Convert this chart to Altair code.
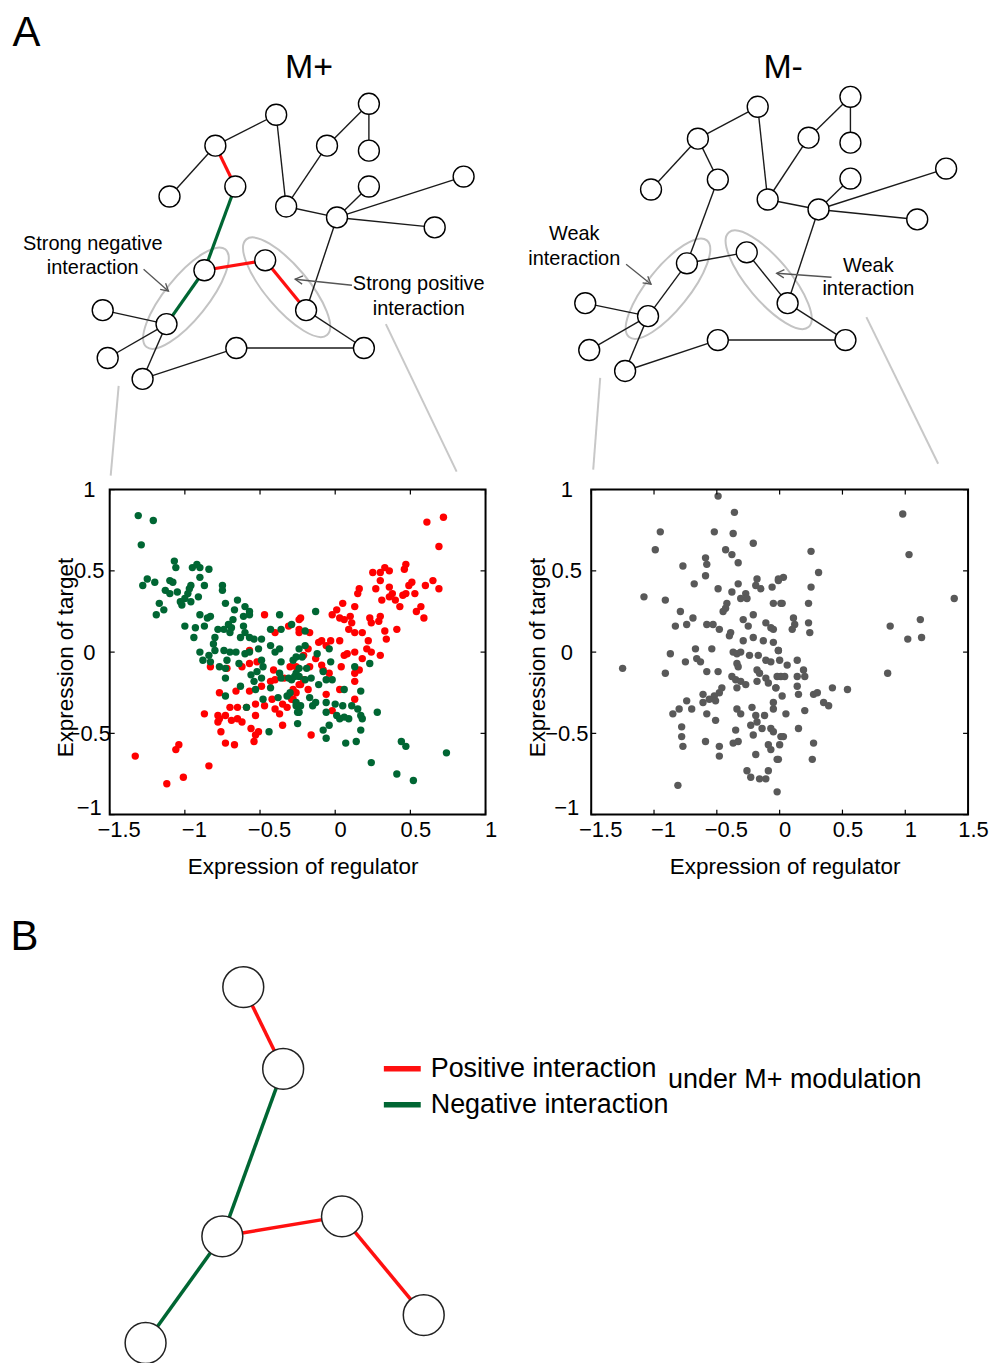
import math
import altair as alt
import pandas as pd

FONT = "Liberation Sans"
RED = "#ff0000"
GREEN = "#006633"
GREY = "#595959"

# ---------------- scatter data: M+ (left) ----------------
red_pts = [
    (-0.47, 0.23), (-0.40, 0.12), (-0.31, 0.16), (-0.24, 0.20), (-0.24, 0.12), (-0.57, 0.01), (-0.57, -0.07),
    (-0.83, -0.09), (-0.72, -0.10), (-0.62, -0.09), (-0.52, -0.06), (-0.41, -0.11), (-0.49, -0.21), (-0.43, -0.18),
    (-0.40, -0.17), (-0.34, -0.16), (-0.77, -0.25), (-0.66, -0.24), (-0.57, -0.24), (-0.47, -0.33), (-0.42, -0.29),
    (-0.40, -0.35), (-0.37, -0.38), (-0.35, -0.32), (-0.32, -0.34), (-0.29, -0.29), (-0.28, -0.23), (-0.24, -0.20),
    (-0.70, -0.34), (-0.65, -0.34), (-0.59, -0.34), (-0.53, -0.32), (-0.53, -0.39), (-0.87, -0.38), (-0.78, -0.39),
    (-0.73, -0.39), (-0.77, -0.41), (-0.78, -0.43), (-0.69, -0.42), (-0.65, -0.41), (-0.62, -0.43), (-0.76, -0.49),
    (-0.56, -0.47), (-0.53, -0.51), (-0.54, -0.55), (-0.51, -0.49), (-0.35, -0.45), (-0.73, -0.56), (-0.67, -0.57),
    (-1.33, -0.64), (-1.06, -0.60), (-1.04, -0.57), (-0.84, -0.70), (-1.01, -0.77), (-1.12, -0.81),
    (0.61, 0.80), (0.72, 0.83), (0.69, 0.65), (0.47, 0.54), (0.46, 0.51), (0.25, 0.49), (0.30, 0.49), (0.33, 0.52),
    (0.36, 0.50), (0.30, 0.44), (0.27, 0.39), (0.16, 0.39), (0.15, 0.36), (0.36, 0.40), (0.38, 0.36), (0.31, 0.32),
    (0.36, 0.34), (0.40, 0.32), (0.43, 0.28), (0.45, 0.35), (0.49, 0.41), (0.51, 0.43), (0.53, 0.36), (0.47, 0.36),
    (0.60, 0.41), (0.65, 0.44), (0.69, 0.39), (0.57, 0.28), (0.54, 0.25), (0.59, 0.21), (0.05, 0.30), (0.13, 0.28),
    (-0.02, 0.23), (0.01, 0.26), (0.03, 0.21), (0.06, 0.20), (0.10, 0.22), (0.11, 0.18), (0.09, 0.14), (0.13, 0.12),
    (0.18, 0.12), (0.23, 0.21), (0.24, 0.18), (0.30, 0.22), (0.29, 0.19), (0.33, 0.13), (0.41, 0.14), (0.34, 0.08),
    (0.22, 0.07), (0.21, 0.02), (0.24, 0.00), (0.30, -0.02), (0.03, 0.07), (-0.03, 0.07), (-0.06, 0.04), (-0.09, 0.07),
    (-0.11, 0.06), (0.08, -0.01), (0.13, 0.00), (0.06, -0.02), (0.04, -0.09), (0.18, -0.04), (0.16, -0.11),
    (0.13, -0.13), (0.13, -0.18), (-0.23, 0.21), (-0.17, 0.12), (-0.24, 0.14), (-0.18, 0.02), (-0.21, -0.02),
    (-0.17, -0.09), (-0.13, -0.04), (-0.09, -0.08), (-0.08, -0.11), (-0.04, -0.13), (-0.30, -0.09), (-0.26, -0.09),
    (-0.23, -0.20), (-0.21, -0.17), (-0.26, -0.25), (-0.18, -0.23), (-0.06, -0.26), (0.03, -0.23), (0.13, -0.29),
    (-0.02, -0.36), (-0.16, -0.51), (-0.28, -0.29),
]
green_pts = [
    (-1.31, 0.84), (-1.21, 0.81), (-1.29, 0.66), (-1.07, 0.56), (-1.06, 0.52), (-0.95, 0.52), (-0.92, 0.54),
    (-0.90, 0.52), (-0.84, 0.51), (-1.25, 0.45), (-1.20, 0.43), (-1.28, 0.41), (-1.10, 0.44), (-1.08, 0.43),
    (-0.96, 0.41), (-0.90, 0.46), (-0.87, 0.41), (-1.13, 0.38), (-1.10, 0.36), (-1.05, 0.37), (-0.97, 0.39),
    (-0.98, 0.36), (-1.00, 0.33), (-1.03, 0.31), (-1.02, 0.29), (-0.96, 0.31), (-0.91, 0.34), (-1.17, 0.30),
    (-1.14, 0.26), (-1.19, 0.23), (-0.75, 0.41), (-0.75, 0.38), (-0.73, 0.30), (-0.65, 0.32), (-0.67, 0.26),
    (-0.60, 0.28), (-0.57, 0.25), (-0.57, 0.23), (-0.90, 0.23), (-0.85, 0.21), (-0.83, 0.22), (-0.87, 0.16),
    (-1.00, 0.16), (-0.94, 0.09), (-0.93, 0.15), (-0.78, 0.14), (-0.74, 0.14), (-0.71, 0.17), (-0.69, 0.15),
    (-0.70, 0.12), (-0.68, 0.20), (-0.61, 0.16), (-0.61, 0.22), (-0.60, 0.12), (-0.57, 0.09), (-0.54, 0.08),
    (-0.49, 0.08), (-0.51, 0.02), (-0.57, 0.00), (-0.63, 0.09), (-0.80, 0.09), (-0.81, 0.05), (-0.80, 0.01),
    (-0.74, 0.01), (-0.70, 0.00), (-0.66, 0.00), (-0.64, -0.07), (-0.60, -0.01), (-0.72, -0.05), (-0.90, 0.00),
    (-0.88, -0.05), (-0.84, -0.02), (-0.83, -0.06), (-0.77, -0.09), (-0.73, -0.10), (-0.73, -0.16), (-0.63, -0.21),
    (-0.54, -0.18), (-0.53, -0.23), (-0.56, -0.14), (-0.52, -0.12), (-0.49, -0.05), (-0.48, -0.09), (-0.49, -0.16),
    (-0.43, 0.14), (-0.37, 0.23), (-0.36, 0.14), (-0.29, 0.17), (-0.43, 0.04), (-0.40, 0.00), (-0.37, 0.02),
    (-0.36, -0.06), (-0.37, -0.13), (-0.36, -0.16), (-0.31, -0.16), (-0.29, -0.17), (-0.28, -0.05), (-0.26, -0.03),
    (-0.26, -0.13), (-0.24, -0.10), (-0.48, -0.29), (-0.43, -0.22), (-0.38, -0.28), (-0.32, -0.27), (-0.30, -0.25),
    (-0.26, -0.33), (-0.24, -0.37), (-0.25, -0.44), (-0.44, -0.49), (-0.59, -0.34), (-0.73, -0.27),
    (-0.13, 0.25), (-0.20, 0.13), (-0.20, 0.04), (-0.24, 0.02), (-0.22, -0.03), (-0.19, -0.10), (-0.27, -0.15),
    (-0.24, -0.15), (-0.20, -0.17), (-0.16, -0.16), (-0.12, -0.01), (-0.04, 0.02), (-0.03, -0.06), (-0.08, -0.12),
    (-0.06, -0.17), (-0.02, -0.17), (-0.11, -0.20), (-0.26, -0.31), (-0.23, -0.33), (-0.25, -0.37), (-0.17, -0.28),
    (-0.15, -0.33), (-0.13, -0.31), (-0.06, -0.31), (-0.06, -0.37), (0.00, -0.32), (0.05, -0.33), (0.01, -0.39),
    (0.03, -0.41), (0.06, -0.40), (0.09, -0.41), (0.11, -0.33), (0.15, -0.35), (0.17, -0.39), (0.18, -0.41),
    (0.17, -0.48), (0.14, -0.55), (0.07, -0.56), (-0.04, -0.45), (-0.08, -0.48), (-0.06, -0.53), (0.23, -0.07),
    (0.13, -0.09), (0.06, -0.23), (0.17, -0.24), (0.28, -0.37), (0.24, -0.68), (0.41, -0.75), (0.52, -0.79),
    (0.44, -0.55), (0.47, -0.58), (0.74, -0.62),
]

# ---------------- scatter data: M- (right) ----------------
gray_pts = [
    (-0.49, 0.96), (-0.36, 0.86), (-0.95, 0.74), (-0.52, 0.74), (-0.37, 0.73), (-0.21, 0.67), (-0.99, 0.63),
    (-0.43, 0.63), (-0.38, 0.60), (-0.59, 0.58), (-0.58, 0.54), (-0.33, 0.55), (-0.77, 0.53), (-0.59, 0.47),
    (-0.68, 0.42), (-0.49, 0.39), (-0.33, 0.42), (-0.38, 0.37), (-0.18, 0.45), (-0.19, 0.41), (-0.15, 0.39),
    (-0.06, 0.40), (-0.01, 0.44), (-0.27, 0.36), (-0.31, 0.33), (-0.26, 0.33), (-0.05, 0.30), (0.01, 0.30),
    (-1.08, 0.34), (-0.91, 0.32), (-0.79, 0.25), (-0.42, 0.30), (-0.43, 0.27), (-0.45, 0.25), (-0.21, 0.23),
    (-0.29, 0.20), (-0.25, 0.16), (-0.83, 0.16), (-0.74, 0.17), (-0.69, 0.21), (-0.58, 0.17), (-0.53, 0.17),
    (-0.48, 0.14), (-0.11, 0.18), (-0.07, 0.15), (-0.05, 0.14), (-0.39, 0.12), (-0.40, 0.10), (-0.29, 0.07),
    (-0.21, 0.09), (-0.13, 0.07), (-0.05, 0.06), (-0.67, 0.02), (-0.54, 0.02), (-0.87, -0.01), (-0.66, -0.04),
    (-0.63, -0.06), (-0.75, -0.06), (-0.37, 0.00), (-0.34, -0.01), (-0.31, 0.00), (-0.24, -0.02), (-0.17, -0.02),
    (-0.11, -0.05), (-0.07, -0.06), (-0.01, 0.01), (-0.34, -0.07), (-0.33, -0.09), (-1.25, -0.10), (-0.91, -0.13),
    (-0.58, -0.12), (-0.49, -0.12), (-0.38, -0.15), (-0.35, -0.17), (-0.31, -0.18), (-0.27, -0.20), (-0.34, -0.22),
    (-0.18, -0.11), (-0.16, -0.13), (-0.18, -0.18), (-0.11, -0.16), (-0.09, -0.19), (-0.03, -0.22), (0.01, -0.15),
    (-0.46, -0.22), (-0.48, -0.25), (-0.52, -0.27), (-0.56, -0.29), (-0.61, -0.26), (-0.61, -0.31), (-0.51, -0.30),
    (-0.74, -0.30), (-0.80, -0.35), (-0.85, -0.38), (-0.70, -0.35), (-0.58, -0.38), (-0.51, -0.42), (-0.34, -0.35),
    (-0.31, -0.38), (-0.22, -0.34), (-0.19, -0.39), (-0.12, -0.39), (-0.05, -0.35), (-0.05, -0.31), (-0.23, -0.45),
    (-0.21, -0.51), (-0.18, -0.43), (-0.14, -0.47), (-0.07, -0.47), (-0.05, -0.49), (-0.35, -0.48), (-0.33, -0.55),
    (-0.37, -0.56), (-0.78, -0.46), (-0.78, -0.52), (-0.77, -0.58), (-0.59, -0.55), (-0.48, -0.58), (-0.48, -0.64),
    (-0.09, -0.57), (-0.07, -0.60), (-0.01, -0.66), (-0.19, -0.63), (-0.26, -0.73), (-0.23, -0.77), (-0.16, -0.78),
    (-0.11, -0.78), (-0.09, -0.73), (-0.81, -0.82), (-0.02, -0.86), (0.01, -0.52),
    (0.98, 0.85), (1.03, 0.60), (0.25, 0.62), (0.31, 0.49), (1.39, 0.33), (0.25, 0.40), (0.23, 0.30), (0.03, 0.46),
    (-0.01, 0.45), (0.02, 0.30), (0.11, 0.21), (0.12, 0.17), (0.10, 0.14), (0.23, 0.18), (0.24, 0.12), (0.88, 0.16),
    (1.12, 0.20), (1.02, 0.08), (1.13, 0.09), (0.86, -0.13), (-0.01, 0.01), (0.00, -0.05), (0.06, -0.08),
    (0.04, -0.15), (-0.02, -0.15), (0.14, -0.05), (0.19, -0.11), (0.14, -0.15), (0.20, -0.15), (0.14, -0.21),
    (0.15, -0.26), (0.02, -0.27), (-0.03, -0.22), (0.27, -0.26), (0.30, -0.25), (0.42, -0.22), (0.54, -0.23),
    (0.35, -0.31), (0.39, -0.33), (0.20, -0.36), (0.05, -0.38), (0.15, -0.47), (0.03, -0.52), (0.00, -0.57),
    (-0.02, -0.66), (0.27, -0.56), (0.26, -0.66),
]

x_ticks_mplus = [-1.5, -1, -0.5, 0, 0.5, 1]
x_ticks_mminus = [-1.5, -1, -0.5, 0, 0.5, 1, 1.5]
y_ticks = [-1, -0.5, 0, 0.5, 1]

# ---------------- network diagrams (figure pixel positions) ----------------
mplus_x = [276, 369, 369, 327, 215, 235, 169, 369, 286, 337, 464, 435, 204, 265, 306, 102, 166, 107, 236, 364, 142]
mplus_y = [112, 101, 148, 143, 143, 184, 194, 184, 204, 215, 174, 225, 268, 258, 308, 308, 322, 356, 346, 346, 377]
mminus_x = [759, 852, 852, 810, 699, 719, 652, 852, 769, 820, 948, 919, 688, 748, 789, 586, 649, 590, 719, 847, 626]
mminus_y = [104, 94, 140, 135, 136, 177, 187, 176, 197, 207, 166, 217, 261, 250, 301, 301, 314, 348, 338, 338, 369]
edge_from = [5, 5, 5, 6, 13, 13, 14, 1, 9, 4, 2, 9, 10, 10, 10, 10, 15, 20, 19, 21, 17, 17]
edge_to = [1, 7, 6, 13, 17, 14, 15, 9, 4, 2, 3, 10, 8, 11, 12, 15, 20, 19, 21, 17, 16, 18]
edge_kind_mplus = ["pos" if i in (2, 5, 6) else "neg" if i in (3, 4) else "none" for i in range(22)]
edge_kind_mminus = ["none"] * 22

ellipse_ends = [  # (x1, y1, x2, y2)
    (146, 345, 225, 247), (246, 237, 327, 333),
    (630, 335, 708, 238), (730, 230, 810, 325),
]
arrow_lines = [  # tail -> tip
    (143, 267, 168, 289), (352, 283, 295, 277),
    (627, 262, 652, 282), (833, 275, 778, 271),
]
zoom_lines = [(118, 384, 110, 474), (386, 322, 457, 470), (601, 376, 594, 468), (868, 315, 940, 462)]
top_texts = [
    ("A", 25.5, 43, 42), ("M+", 309, 75, 34), ("M-", 784.5, 75, 34),
    ("Strong negative", 92, 248, 20), ("interaction", 92, 272, 20),
    ("Strong positive", 419, 288, 20), ("interaction", 419, 313, 20),
    ("Weak", 575, 238, 20), ("interaction", 575, 263, 20),
    ("Weak", 870, 270, 20), ("interaction", 870, 293, 20),
]

# panel B
b_x = [243, 283, 222, 342, 424, 145]
b_y = [987, 1069, 1237, 1217, 1316, 1344]
b_from = [1, 2, 3, 4, 3]
b_to = [2, 3, 4, 5, 6]
b_kind = ["pos", "neg", "pos", "pos", "neg"]
legend_kind = ["pos", "neg"]
legend_y = [1069, 1105]
b_texts = [("Positive interaction", 431, 1077, 27), ("Negative interaction", 431, 1113, 27),
           ("under M+ modulation", 669, 1088, 27)]

KIND_COLOR = {"pos": "#ff1010", "neg": GREEN, "none": "#1a1a1a"}
KIND_WIDTH = {"pos": 3.2, "neg": 3.2, "none": 1.4}

ELLIPSE = "M -1 0 A 1 0.34 0 1 0 1 0 A 1 0.34 0 1 0 -1 0 Z"
ARROWHEAD = "M -1 -0.55 L 0 0 L -1 0.55"


def PX(dom):
    return alt.X("x:Q", scale=alt.Scale(domain=dom, nice=False, zero=False), axis=None)


def PY(dom):
    return alt.Y("y:Q", scale=alt.Scale(domain=dom, nice=False, zero=False, reverse=True), axis=None)


def edges_df(nx, ny, efrom, eto, kinds, width_scale=1.0):
    rows = []
    for a, b, k in zip(efrom, eto, kinds):
        rows.append(dict(x=nx[a - 1], y=ny[a - 1], x2=nx[b - 1], y2=ny[b - 1],
                         c=KIND_COLOR[k], w=KIND_WIDTH[k] * width_scale))
    df = pd.DataFrame(rows)
    return df.sort_values("w", kind="stable")


def rule_layer(df, xd, yd, **mark):
    return alt.Chart(df).mark_rule(**mark).encode(
        x=PX(xd), y=PY(yd), x2=alt.X2("x2"), y2=alt.Y2("y2"))


def text_layer(rows, xd, yd, align="center"):
    df = pd.DataFrame(rows, columns=["t", "x", "y", "fs"])
    return alt.Chart(df).mark_text(font=FONT, align=align, baseline="alphabetic", color="black").encode(
        x=PX(xd), y=PY(yd), text="t:N", size=alt.Size("fs:Q", scale=None))


# ---------------- top row: networks ----------------
TX, TY = [8, 109], [8, 488]
conn_df = pd.DataFrame(zoom_lines, columns=["x", "y", "x2", "y2"])
ell_rows = []
for x1, y1, x2, y2 in ellipse_ends:
    ell_rows.append(dict(x=(x1 + x2) / 2, y=(y1 + y2) / 2, s=(x2 - x1) ** 2 + (y2 - y1) ** 2,
                         a=math.degrees(math.atan2(y2 - y1, x2 - x1)) % 360))
ell_df = pd.DataFrame(ell_rows)
arr_df = pd.DataFrame(arrow_lines, columns=["x", "y", "x2", "y2"])
head_df = pd.DataFrame([dict(x=x2, y=y2, a=math.degrees(math.atan2(y2 - y1, x2 - x1)) % 360)
                        for x1, y1, x2, y2 in arrow_lines])
top_edges = pd.concat([edges_df(mplus_x, mplus_y, edge_from, edge_to, edge_kind_mplus),
                       edges_df(mminus_x, mminus_y, edge_from, edge_to, edge_kind_mminus)]).sort_values("w", kind="stable")
top_nodes = pd.DataFrame({"x": mplus_x + mminus_x, "y": mplus_y + mminus_y})

top = alt.layer(
    rule_layer(conn_df, TX, TY, color="#c8c8c8", strokeWidth=2),
    alt.Chart(ell_df).mark_point(shape=ELLIPSE, filled=False, color="#c3c3c3", strokeWidth=2, opacity=1).encode(
        x=PX(TX), y=PY(TY), size=alt.Size("s:Q", scale=None), angle=alt.Angle("a:Q", scale=None)),
    alt.Chart(top_edges).mark_rule().encode(
        x=PX(TX), y=PY(TY), x2=alt.X2("x2"), y2=alt.Y2("y2"),
        color=alt.Color("c:N", scale=None), strokeWidth=alt.StrokeWidth("w:Q", scale=None)),
    alt.Chart(top_nodes).mark_point(shape="circle", filled=True, color="white", stroke="black",
                                    strokeWidth=1.4, size=441, opacity=1).encode(x=PX(TX), y=PY(TY)),
    rule_layer(arr_df, TX, TY, color="#555555", strokeWidth=1.3),
    alt.Chart(head_df).mark_point(shape=ARROWHEAD, filled=False, color="#555555", strokeWidth=1.3,
                                  size=225, opacity=1).encode(
        x=PX(TX), y=PY(TY), angle=alt.Angle("a:Q", scale=None)),
    text_layer(top_texts, TX, TY),
).properties(width=101, height=480)


# ---------------- middle row: scatter plots ----------------
def scatter(series, xdom, xticks, W, H, ylab_pad, ytitle_x):
    xaxis = alt.Axis(values=xticks, format="~g", ticks=False, tickSize=0, domain=False, grid=False,
                     labelFont=FONT, labelFontSize=22, labelColor="black", labelPadding=5,
                     labelFlush=False, labelOverlap=False,
                     labelOffset={"condition": {"test": "datum.value < 0", "value": 9}, "value": 5},
                     title="Expression of regulator", titleFont=FONT, titleFontSize=22.5,
                     titleFontWeight="normal", titleColor="black", titleX=W / 2 + 5, titleY=59,
                     titleBaseline="alphabetic", titleAlign="center")
    yaxis = alt.Axis(values=y_ticks, format="~g", ticks=False, tickSize=0, domain=False, grid=False,
                     labelFont=FONT, labelFontSize=22, labelColor="black", labelPadding=ylab_pad,
                     labelAlign="center", labelFlush=False, labelOverlap=False,
                     labelOffset={"condition": {"test": "datum.value == -1", "value": -7}, "value": 0},
                     title="Expression of target", titleFont=FONT, titleFontSize=22.5,
                     titleFontWeight="normal", titleColor="black", titleAngle=270,
                     titleX=ytitle_x, titleY=H / 2 + 5, titleBaseline="alphabetic", titleAlign="center")
    X = alt.X("x:Q", scale=alt.Scale(domain=xdom, nice=False, zero=False), axis=xaxis)
    Y = alt.Y("y:Q", scale=alt.Scale(domain=[-1, 1], nice=False, zero=False), axis=yaxis)
    layers = []
    for pts, col in series:
        df = pd.DataFrame(pts, columns=["x", "y"])
        layers.append(alt.Chart(df).mark_circle(size=55, opacity=1, color=col).encode(x=X, y=Y))
    xt = pd.DataFrame({"x": xticks})
    yt = pd.DataFrame({"y": y_ticks})
    layers.append(alt.Chart(xt).mark_rule(color="black", strokeWidth=1.2).encode(
        x=X, y=alt.value(H), y2=alt.value(H - 5)))
    layers.append(alt.Chart(xt).mark_rule(color="black", strokeWidth=1.2).encode(
        x=X, y=alt.value(0), y2=alt.value(5)))
    layers.append(alt.Chart(yt).mark_rule(color="black", strokeWidth=1.2).encode(
        y=Y, x=alt.value(0), x2=alt.value(5)))
    layers.append(alt.Chart(yt).mark_rule(color="black", strokeWidth=1.2).encode(
        y=Y, x=alt.value(W), x2=alt.value(W - 5)))
    return alt.layer(*layers).properties(width=W, height=H,
                                          view=alt.ViewBackground(stroke="black", strokeWidth=2))


scat_left = scatter([(red_pts, RED), (green_pts, GREEN)], [-1.5, 1], x_ticks_mplus, 377, 326, 21, -37)
scat_right = scatter([(gray_pts, GREY)], [-1.5, 1.5], x_ticks_mminus, 378, 326, 25, -47)

# ---------------- bottom row: panel B ----------------
BX, BY = [8, 109], [814, 1363]
b_edges = edges_df(b_x, b_y, b_from, b_to, b_kind, width_scale=1.1)
leg_df = pd.DataFrame({"x": [384] * 2, "x2": [421] * 2, "y": legend_y, "y2": legend_y,
                       "c": [KIND_COLOR[k] for k in legend_kind]})
panel_b = alt.layer(
    alt.Chart(b_edges).mark_rule().encode(
        x=PX(BX), y=PY(BY), x2=alt.X2("x2"), y2=alt.Y2("y2"),
        color=alt.Color("c:N", scale=None), strokeWidth=alt.StrokeWidth("w:Q", scale=None)),
    alt.Chart(pd.DataFrame({"x": b_x, "y": b_y})).mark_point(
        shape="circle", filled=True, color="white", stroke="#222222", strokeWidth=1.5, size=1681,
        opacity=1).encode(x=PX(BX), y=PY(BY)),
    alt.Chart(leg_df).mark_rule(strokeWidth=5.5).encode(
        x=PX(BX), y=PY(BY), x2=alt.X2("x2"), y2=alt.Y2("y2"), color=alt.Color("c:N", scale=None)),
    text_layer(b_texts, BX, BY, align="left"),
    text_layer([("B", 23.5, 950, 42)], BX, BY),
).properties(width=101, height=549)


def spacer(w, h):
    return alt.Chart(pd.DataFrame({"v": [0]})).mark_point(opacity=0, size=1).encode(
        x=alt.value(w / 2), y=alt.value(h / 2)).properties(width=w, height=h)


chart = alt.concat(
    top, spacer(1, 1), spacer(1, 1), spacer(1, 1),
    spacer(101, 326), scat_left, spacer(106, 326), scat_right,
    panel_b, spacer(1, 1), spacer(1, 1), spacer(1, 1),
    columns=4, spacing=0, bounds="flush", align="each",
).properties(padding=0, background="white").configure_view(stroke="transparent")

chart.save("out.html", embed_options={"renderer": "svg", "actions": False})
